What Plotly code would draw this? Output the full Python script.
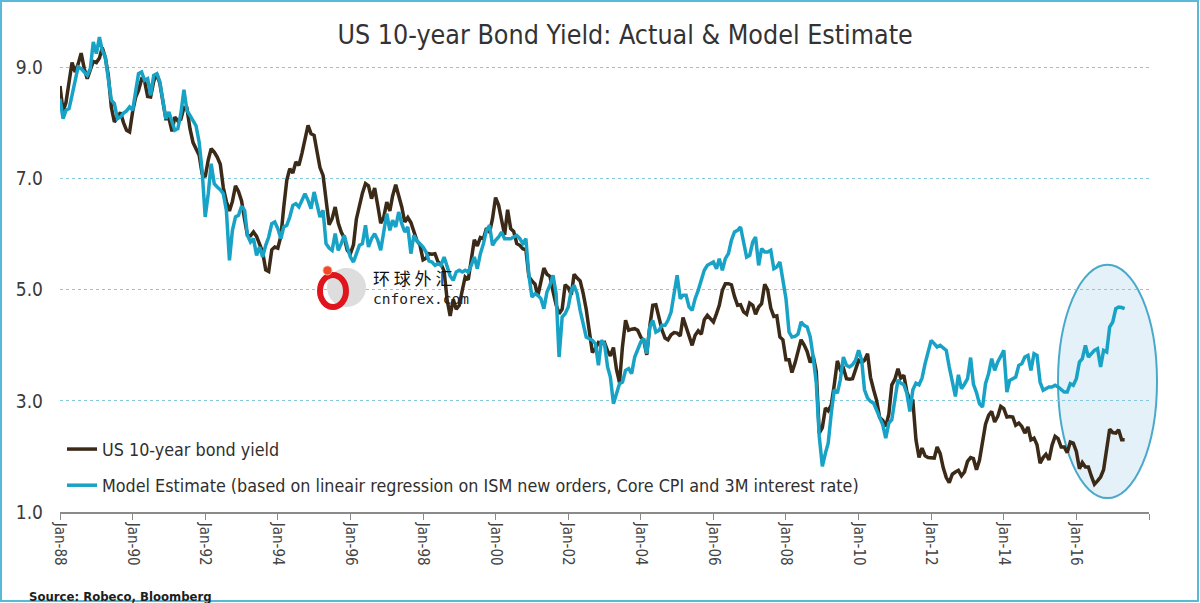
import pandas as pd
import plotly.graph_objects as go

# monthly data, Jan-1988 .. May-2017
us10y_yield = [
    8.67, 8.21, 8.37, 8.72, 9.09, 8.92, 9.06, 9.26, 8.98, 8.80, 8.96, 9.11,
    9.09, 9.17, 9.36, 9.18, 8.86, 8.28, 8.02, 8.11, 8.19, 8.01, 7.87, 7.84,
    8.21, 8.47, 8.59, 8.79, 8.76, 8.48, 8.47, 8.75, 8.89, 8.72, 8.39, 8.08,
    8.09, 7.85, 8.11, 8.04, 8.07, 8.28, 8.27, 7.90, 7.65, 7.53, 7.42, 7.09,
    7.03, 7.34, 7.54, 7.48, 7.39, 7.26, 6.84, 6.59, 6.42, 6.59, 6.87, 6.77,
    6.60, 6.26, 5.98, 5.97, 6.04, 5.96, 5.81, 5.68, 5.36, 5.33, 5.72, 5.77,
    5.75, 5.97, 6.48, 6.97, 7.18, 7.10, 7.30, 7.24, 7.46, 7.74, 7.96, 7.81,
    7.78, 7.47, 7.20, 7.06, 6.63, 6.17, 6.28, 6.49, 6.20, 6.04, 5.93, 5.71,
    5.65, 5.81, 6.27, 6.51, 6.74, 6.91, 6.87, 6.64, 6.83, 6.53, 6.20, 6.30,
    6.58, 6.42, 6.69, 6.89, 6.71, 6.49, 6.22, 6.30, 6.21, 6.03, 5.88, 5.81,
    5.54, 5.57, 5.65, 5.64, 5.65, 5.50, 5.46, 5.34, 4.81, 4.53, 4.83, 4.65,
    4.72, 5.00, 5.23, 5.18, 5.54, 5.90, 5.79, 5.94, 5.92, 6.11, 6.03, 6.28,
    6.66, 6.52, 6.26, 5.99, 6.44, 6.10, 6.05, 5.83, 5.80, 5.74, 5.72, 5.24,
    5.16, 5.10, 4.89, 5.14, 5.39, 5.28, 5.24, 4.97, 4.73, 4.57, 4.65, 5.09,
    5.04, 4.91, 5.28, 5.21, 5.16, 4.93, 4.65, 4.26, 3.87, 3.94, 4.05, 4.03,
    4.05, 3.90, 3.81, 3.96, 3.57, 3.33, 3.98, 4.45, 4.27, 4.29, 4.30, 4.27,
    4.15, 4.08, 3.83, 4.35, 4.72, 4.73, 4.50, 4.28, 4.13, 4.10, 4.19, 4.23,
    4.22, 4.17, 4.50, 4.34, 4.14, 4.00, 4.18, 4.26, 4.20, 4.46, 4.54, 4.47,
    4.42, 4.57, 4.72, 4.99, 5.11, 5.11, 5.09, 4.88, 4.72, 4.73, 4.60, 4.56,
    4.76, 4.72, 4.56, 4.69, 4.75, 5.10, 5.00, 4.67, 4.52, 4.53, 4.15, 4.10,
    3.74, 3.74, 3.51, 3.68, 3.88, 4.10, 4.01, 3.89, 3.69, 3.81, 3.53, 2.42,
    2.52, 2.87, 2.82, 2.93, 3.29, 3.72, 3.56, 3.59, 3.40, 3.39, 3.40, 3.59,
    3.73, 3.69, 3.73, 3.85, 3.42, 3.20, 3.01, 2.70, 2.65, 2.54, 2.76, 3.29,
    3.39, 3.58, 3.41, 3.46, 3.17, 3.00, 3.00, 2.30, 1.98, 2.15, 2.01, 1.98,
    1.97, 1.97, 2.17, 2.05, 1.80, 1.62, 1.53, 1.68, 1.72, 1.75, 1.65, 1.72,
    1.91, 1.98, 1.96, 1.76, 1.93, 2.30, 2.58, 2.74, 2.81, 2.62, 2.72, 2.90,
    2.86, 2.71, 2.72, 2.71, 2.56, 2.60, 2.54, 2.42, 2.53, 2.30, 2.33, 2.21,
    1.88, 1.98, 2.04, 1.94, 2.20, 2.36, 2.32, 2.17, 2.17, 2.07, 2.26, 2.24,
    2.09, 1.78, 1.89, 1.81, 1.81, 1.64, 1.50, 1.56, 1.63, 1.76, 2.14, 2.49,
    2.43, 2.42, 2.48, 2.30, 2.30,
]

model_estimate = [
    8.44, 8.08, 8.23, 8.26, 8.50, 8.74, 9.01, 8.98, 8.92, 8.86, 8.98, 9.46,
    9.25, 9.55, 9.31, 9.19, 8.80, 8.41, 8.35, 8.08, 8.11, 8.18, 8.22, 8.29,
    8.23, 8.59, 8.89, 8.92, 8.77, 8.80, 8.50, 8.86, 8.89, 8.75, 8.45, 8.08,
    8.20, 8.05, 7.87, 7.90, 8.17, 8.60, 8.23, 8.14, 8.05, 7.95, 7.66, 7.15,
    6.31, 6.73, 7.27, 6.91, 6.85, 6.80, 6.73, 6.43, 5.53, 6.07, 6.31, 6.34,
    6.50, 6.43, 5.98, 5.86, 5.92, 5.62, 5.77, 5.59, 5.80, 5.95, 6.19, 6.22,
    6.10, 5.92, 6.13, 6.16, 6.31, 6.52, 6.55, 6.49, 6.61, 6.73, 6.61, 6.46,
    6.76, 6.52, 6.31, 6.43, 5.83, 5.75, 5.71, 6.01, 5.71, 5.83, 5.98, 5.77,
    5.59, 5.50, 5.65, 5.80, 5.83, 6.16, 5.77, 5.92, 6.01, 5.90, 5.71, 6.07,
    6.37, 6.07, 6.25, 6.13, 6.40, 6.19, 6.04, 6.13, 5.65, 5.98, 5.88, 5.83,
    5.77, 5.68, 5.52, 5.50, 5.44, 5.47, 5.44, 5.59, 5.41, 5.25, 5.17, 5.32,
    5.35, 5.32, 5.35, 5.32, 5.44, 5.59, 5.38, 5.65, 5.83, 6.07, 6.16, 5.80,
    5.89, 5.95, 6.04, 5.92, 5.92, 5.92, 5.95, 5.98, 5.92, 5.83, 5.92, 5.26,
    4.87, 4.93, 4.90, 4.84, 4.66, 4.96, 5.08, 5.26, 4.93, 3.79, 4.51, 4.57,
    4.69, 4.99, 5.08, 4.93, 4.63, 4.35, 4.15, 4.12, 4.09, 4.03, 3.64, 4.09,
    4.03, 3.61, 3.43, 2.95, 3.15, 3.31, 3.34, 3.55, 3.58, 3.49, 3.79, 3.94,
    4.06, 4.12, 3.85, 4.33, 4.45, 4.24, 4.27, 4.36, 4.36, 4.45, 4.60, 4.93,
    5.26, 4.84, 4.90, 4.90, 4.69, 4.63, 4.84, 4.99, 5.17, 5.35, 5.44, 5.47,
    5.50, 5.38, 5.56, 5.35, 5.56, 5.65, 5.89, 6.04, 6.07, 6.13, 5.86, 5.59,
    5.62, 5.86, 5.95, 5.44, 5.74, 5.68, 5.68, 5.71, 5.38, 5.41, 5.50, 5.17,
    4.84, 4.24, 4.15, 4.16, 4.20, 4.42, 4.36, 4.33, 4.15, 3.79, 3.32, 2.36,
    1.82, 2.06, 2.24, 2.78, 3.20, 3.14, 3.38, 3.79, 3.64, 3.61, 3.65, 3.73,
    3.91, 3.73, 3.20, 3.05, 2.99, 2.96, 2.84, 2.72, 2.57, 2.33, 2.60, 2.66,
    3.02, 3.38, 3.32, 3.29, 3.14, 2.81, 3.20, 3.32, 3.29, 3.41, 3.67, 3.88,
    4.09, 4.03, 3.97, 4.00, 3.95, 3.91, 3.61, 3.35, 3.08, 3.47, 3.22, 3.30,
    3.40, 3.78, 3.30, 3.15, 2.95, 2.89, 3.31, 3.49, 3.76, 3.55, 3.70, 3.80,
    3.91, 3.16, 3.37, 3.40, 3.43, 3.64, 3.67, 3.79, 3.82, 3.55, 3.85, 3.82,
    3.34, 3.19, 3.22, 3.25, 3.25, 3.28, 3.25, 3.20, 3.16, 3.16, 3.31, 3.28,
    3.40, 3.70, 3.76, 4.00, 3.79, 3.85, 3.91, 3.94, 3.61, 3.91, 3.88, 4.33,
    4.42, 4.66, 4.69, 4.68, 4.66,
]

months = pd.date_range("1988-01-01", periods=len(us10y_yield), freq="MS")

tick_dates = pd.date_range("1988-01-01", "2018-01-01", freq="24MS")
tick_labels = ["Jan-88", "Jan-90", "Jan-92", "Jan-94", "Jan-96", "Jan-98",
               "Jan-00", "Jan-02", "Jan-04", "Jan-06", "Jan-08", "Jan-10",
               "Jan-12", "Jan-14", "Jan-16", ""]
y_ticks = [1.0, 3.0, 5.0, 7.0, 9.0]

# layout geometry (pixels)
W, H = 1200, 603
ML, MR, MT, MB = 60, 51, 12, 91
PW, PH = W - ML - MR, H - MT - MB


def px_x(x):
    return (x - ML) / PW


def px_y(y):
    return (H - MB - y) / PH


NARROW = "Liberation Sans Narrow, Arial Narrow, DejaVu Sans Condensed, sans-serif"
BROWN = "#3a2a17"
CYAN = "#18a3c6"

fig = go.Figure()
fig.add_trace(go.Scatter(
    x=months, y=us10y_yield, mode="lines", name="US 10-year bond yield",
    line=dict(color=BROWN, width=3.5), legendgroup="a",
))
fig.add_trace(go.Scatter(
    x=months, y=model_estimate, mode="lines",
    name="Model Estimate (based on lineair regression on ISM new orders, Core CPI and 3M interest rate)",
    line=dict(color=CYAN, width=3.5), legendgroup="b",
))

# highlight ellipse around the latest divergence
fig.add_shape(type="circle", xref="paper", yref="y",
              x0=px_x(1058), x1=px_x(1157), y0=1.25, y1=5.45,
              fillcolor="rgba(205,230,242,0.55)",
              line=dict(color="#49a9cb", width=2), layer="below")

# outer frame
fig.add_shape(type="rect", xref="paper", yref="paper",
              x0=px_x(1), x1=px_x(W - 2), y0=px_y(H - 2), y1=px_y(1),
              line=dict(color="#58bad8", width=2))

# watermark logo
fig.add_shape(type="circle", xref="paper", yref="paper",
              x0=px_x(327), x1=px_x(366), y0=px_y(307), y1=px_y(268),
              fillcolor="#dddddd", line=dict(width=0))
fig.add_shape(type="circle", xref="paper", yref="paper",
              x0=px_x(320), x1=px_x(346), y0=px_y(307), y1=px_y(275),
              fillcolor="rgba(0,0,0,0)", line=dict(color="#e0141c", width=6))
fig.add_shape(type="circle", xref="paper", yref="paper",
              x0=px_x(323), x1=px_x(332), y0=px_y(275), y1=px_y(266),
              fillcolor="#f04a2a", line=dict(color="#ffb08a", width=1))

fig.add_annotation(text="环 球 外 汇", xref="paper", yref="paper",
                   x=px_x(371), y=px_y(277), xanchor="left", yanchor="middle",
                   showarrow=False,
                   font=dict(family="Noto Sans CJK SC", size=17, color="#111111"))
fig.add_annotation(text="cnforex.com", xref="paper", yref="paper",
                   x=px_x(371), y=px_y(299), xanchor="left", yanchor="middle",
                   showarrow=False,
                   font=dict(family="DejaVu Sans Mono", size=14.5, color="#222222"))

fig.add_annotation(text="<b>Source: Robeco, Bloomberg</b>", xref="paper", yref="paper",
                   x=px_x(27), y=px_y(587), xanchor="left", yanchor="top",
                   showarrow=False,
                   font=dict(family=NARROW, size=13, color="#1e1e1e"))

fig.update_layout(
    width=W, height=H,
    margin=dict(l=ML, r=MR, t=MT, b=MB),
    paper_bgcolor="white", plot_bgcolor="white",
    title=dict(text="US 10-year Bond Yield: Actual & Model Estimate",
               x=0.521, xanchor="center", y=1 - 35 / H, yanchor="middle",
               font=dict(family=NARROW, size=26.6, color="#333333")),
    showlegend=True,
    legend=dict(x=px_x(62), y=px_y(431), xanchor="left", yanchor="top",
                bgcolor="rgba(0,0,0,0)", tracegroupgap=10,
                font=dict(family=NARROW, size=17.8, color="#2f2f2f")),
    xaxis=dict(
        range=["1988-01-01", "2018-01-01"],
        tickmode="array", tickvals=tick_dates, ticktext=tick_labels,
        tickangle=90, ticks="outside", ticklen=6, tickcolor="#8a8a8a",
        showline=True, linecolor="#8a8a8a", linewidth=1.5,
        showgrid=False, zeroline=False,
        tickfont=dict(family=NARROW, size=15, color="#444444"),
    ),
    yaxis=dict(
        range=[1, 10],
        tickmode="array", tickvals=y_ticks,
        ticktext=[f"{v:.1f}" for v in y_ticks],
        showgrid=True, gridcolor="#86c9dc", griddash="dot", gridwidth=1,
        zeroline=False, showline=False, ticks="",
        ticklabelstandoff=16,
        tickfont=dict(family=NARROW, size=19, color="#3a3a3a"),
    ),
)

# the page's default body margin would shift the chart by 8px
fig.write_html("out.html", config={"displayModeBar": False},
               post_script="document.body.style.margin='0px';")
